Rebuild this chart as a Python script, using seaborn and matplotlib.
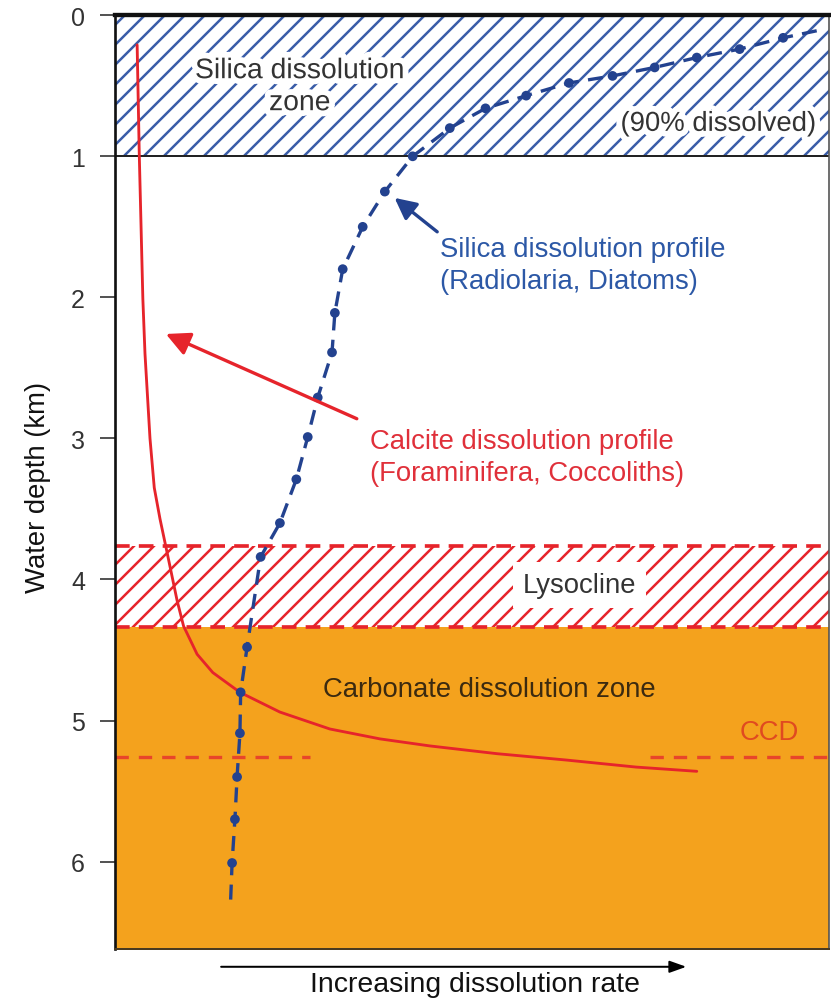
import matplotlib
matplotlib.use("Agg")
import matplotlib.pyplot as plt
import matplotlib.patheffects as pe
import pandas as pd
import seaborn as sns

# depth in km, rate in arbitrary units (0-100 across the panel)
silica_rate = [93.6, 87.5, 81.5, 75.6, 69.7, 63.6, 57.6, 51.9, 46.9, 41.7,
               37.8, 34.7, 31.9, 30.8, 30.4, 28.4, 27.0, 25.4, 23.1, 20.4,
               18.5, 17.6, 17.5, 17.1, 16.8, 16.4]
silica_depth = [0.16, 0.24, 0.30, 0.37, 0.43, 0.48, 0.57, 0.66, 0.80, 1.00,
                1.25, 1.50, 1.80, 2.11, 2.39, 2.71, 2.99, 3.29, 3.60, 3.84,
                4.48, 4.80, 5.09, 5.40, 5.70, 6.01]
# dashed profile runs a little past the first and last dots
silica_line_rate = [98.3] + silica_rate + [16.2]
silica_line_depth = [0.11] + silica_depth + [6.27]

calcite_rate = [3.1, 3.4, 3.9, 4.2, 4.9, 5.5, 6.3, 7.3, 8.7, 9.6, 11.5, 13.7,
                17.5, 23.1, 30.1, 37.1, 44.1, 53.5, 63.2, 73.0, 81.5]
calcite_depth = [0.21, 0.99, 2.01, 2.40, 3.00, 3.35, 3.57, 3.81, 4.15, 4.33, 4.53,
                 4.66, 4.80, 4.94, 5.06, 5.13, 5.18, 5.235, 5.28, 5.33, 5.36]

silica_zone = (0.0, 1.0)
lysocline = (3.76, 4.34)
carbonate_zone = (4.34, 6.62)
ccd_depth = 5.26
depth_ticks = [0, 1, 2, 3, 4, 5, 6]

blue = "#23428f"
blue_hatch = "#3a5da8"
red = "#e6242b"
orange = "#f4a21d"

sns.set_theme(style="ticks")
plt.rcParams["font.family"] = ["Liberation Sans", "DejaVu Sans"]
plt.rcParams["hatch.linewidth"] = 1.5

fig = plt.figure(figsize=(831 / 120, 1003 / 120), dpi=120)
ax = fig.add_axes([0.1384, 0.0528, 0.859, 0.931])

# zones
ax.axhspan(*silica_zone, facecolor="white", edgecolor=blue_hatch, hatch="//", lw=0, zorder=0)
ax.axhline(silica_zone[1], color="#222222", lw=1.2, zorder=1)
ax.axhspan(*lysocline, facecolor="white", edgecolor=red, hatch="//", lw=0, zorder=0)
for d in lysocline:
    ax.axhline(d, color=red, lw=2.2, ls=(0, (4, 2.5)), zorder=1)
ax.axhspan(*carbonate_zone, facecolor=orange, lw=0, zorder=0)

# CCD dashed line, interrupted in the middle
ax.plot([0, 27.3], [ccd_depth] * 2, color="#e8452a", lw=2, ls=(0, (4, 3)), zorder=2)
ax.plot([75, 100], [ccd_depth] * 2, color="#e8452a", lw=2, ls=(0, (4, 3)), zorder=2)

# profiles
calc = pd.DataFrame({"rate": calcite_rate, "depth": calcite_depth})
sil_line = pd.DataFrame({"rate": silica_line_rate, "depth": silica_line_depth})
sil = pd.DataFrame({"rate": silica_rate, "depth": silica_depth})

sns.lineplot(data=calc, x="rate", y="depth", sort=False, estimator=None,
             color=red, lw=1.7, ax=ax, zorder=4)
sns.lineplot(data=sil_line, x="rate", y="depth", sort=False, estimator=None,
             color=blue, lw=2.0, linestyle=(0, (4.5, 2.8)), ax=ax, zorder=5)
sns.scatterplot(data=sil, x="rate", y="depth", color=blue, s=34,
                edgecolor="none", ax=ax, zorder=6)

# annotations
halo = [pe.withStroke(linewidth=7, foreground="white")]
ax.text(25.9, 0.51, "Silica dissolution\nzone", ha="center", va="center",
        fontsize=17, color="#333333", linespacing=1.3, path_effects=halo, zorder=7)
ax.text(84.5, 0.77, "(90% dissolved)", ha="center", va="center",
        fontsize=16.5, color="#333333", path_effects=halo, zorder=7)
ax.text(45.5, 1.77, "Silica dissolution profile\n(Radiolaria, Diatoms)",
        ha="left", va="center", fontsize=16.5, color="#2c58a6", linespacing=1.3)
ax.text(35.7, 3.13, "Calcite dissolution profile\n(Foraminifera, Coccoliths)",
        ha="left", va="center", fontsize=16.5, color="#e0303a", linespacing=1.3)
ax.text(65.1, 4.04, "Lysocline", ha="center", va="center", fontsize=16.5,
        color="#333333", zorder=7,
        bbox=dict(facecolor="white", edgecolor="none", pad=6))
ax.text(52.5, 4.78, "Carbonate dissolution zone", ha="center", va="center",
        fontsize=16.5, color="#3b2a10", zorder=7)
ax.text(91.7, 5.08, "CCD", ha="center", va="center", fontsize=16.5,
        color="#e04a20", zorder=7)

ax.annotate("", xy=(38.8, 1.28), xytext=(45.5, 1.55),
            arrowprops=dict(arrowstyle="-|>,head_length=0.9,head_width=0.45",
                            color=blue, lw=2), zorder=7)
ax.annotate("", xy=(6.7, 2.25), xytext=(34.3, 2.87),
            arrowprops=dict(arrowstyle="-|>,head_length=1.0,head_width=0.5",
                            color=red, lw=2), zorder=7)

# x-axis arrow and label
ax.annotate("", xy=(80.5, -0.019), xytext=(14.4, -0.019),
            xycoords=("data", "axes fraction"), textcoords=("data", "axes fraction"),
            arrowprops=dict(arrowstyle="-|>,head_length=0.7,head_width=0.25",
                            color="black", lw=1.2), annotation_clip=False)
ax.set_xlabel("Increasing dissolution rate", fontsize=17, color="#111111")
ax.xaxis.set_label_coords(0.504, -0.024)

ax.set_xlim(0, 100)
ax.set_ylim(carbonate_zone[1], 0)
ax.set_xticks([])
ax.set_yticks(depth_ticks)
ax.set_yticklabels([str(t) for t in depth_ticks])
ax.tick_params(axis="y", length=9, width=1.0, pad=9, labelsize=15, colors="#333333")
ax.set_ylabel("Water depth (km)", fontsize=16.5, color="#111111")
ax.yaxis.set_label_coords(-0.09, 0.495)

ax.spines["left"].set_linewidth(1.6)
ax.spines["left"].set_color("#111111")
ax.spines["top"].set_linewidth(2.6)
ax.spines["top"].set_color("#111111")
ax.spines["bottom"].set_linewidth(1.2)
ax.spines["bottom"].set_color("#4a3a20")
ax.spines["right"].set_linewidth(1.0)
ax.spines["right"].set_color("#555555")
ax.set_zorder(1)

fig.savefig("out.png", dpi=120)
